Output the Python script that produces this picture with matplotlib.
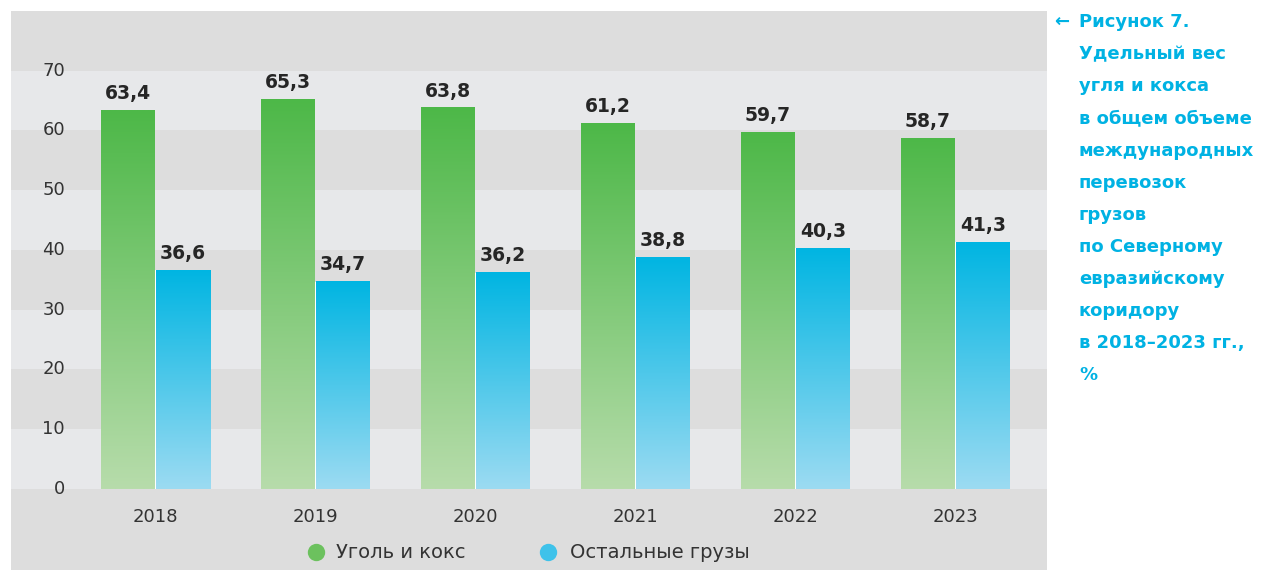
import numpy as np
import matplotlib
matplotlib.use("Agg")
import matplotlib.pyplot as plt
from matplotlib.colors import LinearSegmentedColormap
import matplotlib.transforms as mtransforms

plt.rcParams['font.family'] = ['DejaVu Sans']

years = ['2018', '2019', '2020', '2021', '2022', '2023']
coal = [63.4, 65.3, 63.8, 61.2, 59.7, 58.7]
other = [36.6, 34.7, 36.2, 38.8, 40.3, 41.3]
labels_series = ['Уголь и кокс', 'Остальные грузы']
yticks = [0, 10, 20, 30, 40, 50, 60, 70]
title_lines = ['Рисунок 7.', 'Удельный вес', 'угля и кокса', 'в общем объеме',
               'международных', 'перевозок', 'грузов', 'по Северному',
               'евразийскому', 'коридору', 'в 2018–2023 гг.,', '%']

W, H = 1262, 573
fig = plt.figure(figsize=(W / 100, H / 100), dpi=100, facecolor='white')
ax = fig.add_axes([11 / W, 3 / H, 1036 / W, 559 / H])

dark = '#dddddd'
light = '#e7e8ea'
ymin, ymax = -13.6, 80
xmin, xmax = -0.903, 5.572

# bands
edges = [ymin] + yticks + [ymax]
for k in range(len(edges) - 1):
    ax.axhspan(edges[k], edges[k + 1], color=(dark if k % 2 == 0 else light), lw=0, zorder=0)

x = np.arange(len(years))
bw = 0.3375
off = 0.172

green_top, green_bot = '#4db848', '#b7dcab'
blue_top, blue_bot = '#00b5e2', '#9cdbf2'

# white separator between paired bars
ax.bar(x, np.minimum(coal, other), width=0.008, color='white', lw=0, zorder=1.5)

bars_g = ax.bar(x - off, coal, width=bw, facecolor='none', edgecolor='none', zorder=2)
bars_b = ax.bar(x + off, other, width=bw, facecolor='none', edgecolor='none', zorder=2)

grad = np.linspace(0, 1, 256).reshape(-1, 1)
for bars, ctop, cbot in [(bars_g, green_top, green_bot), (bars_b, blue_top, blue_bot)]:
    cmap = LinearSegmentedColormap.from_list('g', [cbot, ctop])
    for b in bars:
        x0, w, h = b.get_x(), b.get_width(), b.get_height()
        ax.imshow(grad, extent=[x0, x0 + w, 0, h], origin='lower', cmap=cmap,
                  aspect='auto', zorder=2, interpolation='bilinear')

# value labels
for bars, vals in [(bars_g, coal), (bars_b, other)]:
    for b, v in zip(bars, vals):
        ax.annotate(f'{v:.1f}'.replace('.', ','), (b.get_x() + b.get_width() / 2, v),
                    xytext=(0, 8), textcoords='offset points', ha='center', va='baseline',
                    fontsize=13.5, fontweight='bold', color='#262626', zorder=3)

ax.set_xlim(xmin, xmax)
ax.set_ylim(ymin, ymax)
ax.set_xticks([])
ax.set_yticks([])
for s in ax.spines.values():
    s.set_visible(False)

# y tick labels inside panel
trans = mtransforms.blended_transform_factory(ax.transAxes, ax.transData)
for t in yticks:
    ax.text(0.0521, t, str(t), transform=trans, ha='right', va='center',
            fontsize=13, color='#333333')

# x labels
for xi, yr in zip(x, years):
    ax.text(xi, -4.7, yr, ha='center', va='center', fontsize=13, color='#333333')

# legend (manual)
leg_y = 18 / 559
for lab, col, cx, tx in [(labels_series[0], '#6cc15e', 316, 336),
                         (labels_series[1], '#3ec2ea', 548, 570)]:
    ax.plot([(cx - 11) / 1036], [leg_y], marker='o', ms=12.5, mfc=col, mec='none',
            ls='none', transform=ax.transAxes, clip_on=False, zorder=4)
    ax.text((tx - 11) / 1036, leg_y, lab, transform=ax.transAxes, ha='left', va='center',
            fontsize=14, color='#333333')

# title on the right
cyan = '#00b2e3'
base0, step = 27.3, 32.06
fig.text(1054 / W, 1 - base0 / H, '←', ha='left', va='baseline', fontsize=13,
         fontweight='bold', color=cyan)
for i, line in enumerate(title_lines):
    fig.text(1079 / W, 1 - (base0 + i * step) / H, line, ha='left', va='baseline',
             fontsize=13, fontweight='bold', color=cyan)

fig.savefig('out.png', dpi=100, facecolor='white')
